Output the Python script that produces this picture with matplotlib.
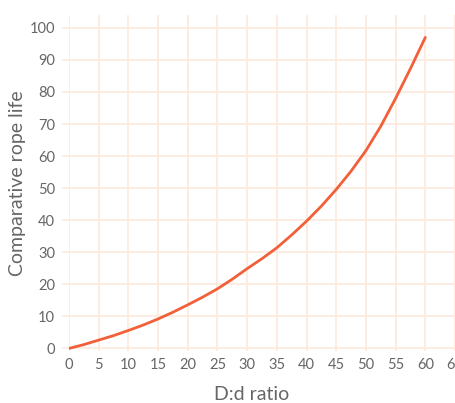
import matplotlib
matplotlib.use("Agg")
import matplotlib.pyplot as plt

# D:d ratio vs comparative rope life
ratio = [0, 2.5, 5, 7.5, 10, 12.5, 15, 17.5, 20, 22.5, 25, 27.5, 30,
         32.5, 35, 37.5, 40, 42.5, 45, 47.5, 50, 52.5, 55, 57.5, 60]
rope_life = [0, 1.2, 2.6, 4.0, 5.6, 7.3, 9.2, 11.3, 13.6, 16.0, 18.6, 21.6, 24.9,
             28.0, 31.4, 35.4, 39.7, 44.4, 49.6, 55.3, 61.7, 69.3, 78.0, 87.3, 97.0]

x_ticks = list(range(0, 70, 5))
y_ticks = list(range(0, 110, 10))

line_color = "#F2603A"
grid_color = "#FDE7D8"
text_color = "#666666"

plt.rcParams["font.family"] = ["Lato", "DejaVu Sans"]

fig = plt.figure(figsize=(4.55, 4.03), dpi=100)
ax = fig.add_axes([69 / 455, 52 / 403, 386 / 455, 336 / 403])

ax.plot(ratio, rope_life, color=line_color, linewidth=2.0, solid_capstyle="round")

ax.set_xlim(0, 65)
ax.set_ylim(-0.8, 104)
ax.set_xticks(x_ticks)
ax.set_yticks(y_ticks)
ax.grid(True, color=grid_color, linewidth=1.1)
ax.set_axisbelow(True)

for s in ax.spines.values():
    s.set_visible(False)

ax.tick_params(axis="y", length=5, width=1.1, color=grid_color, pad=5,
               labelsize=10.5, labelcolor=text_color)
ax.tick_params(axis="x", length=0, pad=5, labelsize=10.5, labelcolor=text_color)

ax.set_xlabel("D:d ratio", fontsize=14, color=text_color, va="center")
ax.set_ylabel("Comparative rope life", fontsize=14, color=text_color, va="center")
ax.xaxis.set_label_coords((252 - 69) / 386, -(395 - 351) / 336)
ax.yaxis.set_label_coords(-(69 - 18) / 386, 0.5)

fig.savefig("out.png", dpi=100)
